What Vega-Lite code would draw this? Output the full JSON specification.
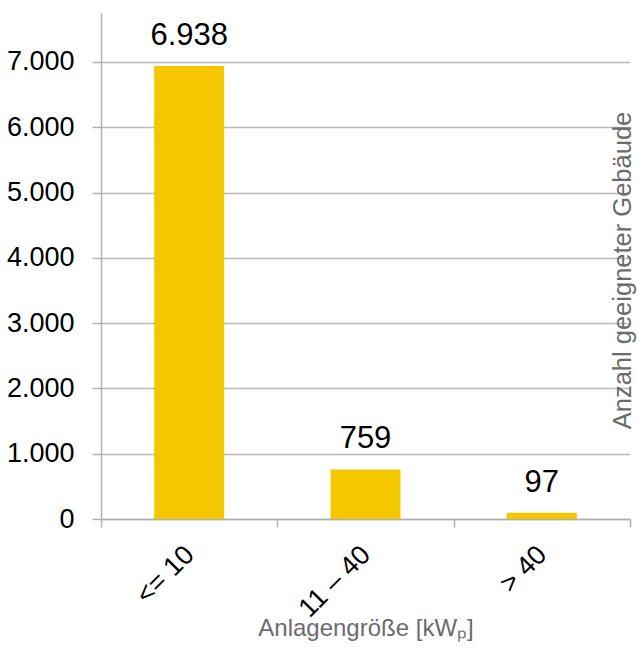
{
  "$schema": "https://vega.github.io/schema/vega-lite/v6.json",
  "autosize": "none",
  "width": 529,
  "height": 506,
  "padding": {"left": 101, "top": 13, "right": 8, "bottom": 129},
  "background": "white",
  "config": {
    "locale": {"number": {"decimal": ",", "thousands": ".", "grouping": [3], "currency": ["", " €"]}},
    "view": {"stroke": null},
    "font": "Liberation Sans"
  },
  "data": {
    "values": [
      {"groesse": "<= 10", "anzahl": 6938},
      {"groesse": "11 – 40", "anzahl": 759},
      {"groesse": "> 40", "anzahl": 97}
    ]
  },
  "encoding": {
    "x": {
      "field": "groesse",
      "type": "nominal",
      "sort": null,
      "scale": {"paddingInner": 0, "paddingOuter": 0},
      "axis": {
        "title": "Anlagengröße [kWₚ]",
        "titleFont": "Liberation Sans",
        "titleFontSize": 24,
        "titleFontWeight": "normal",
        "titleColor": "#6b6b6b",
        "titleBaseline": "middle",
        "titleY": 109,
        "labelAngle": -45,
        "labelFontSize": 27,
        "labelColor": "#000000",
        "labelPadding": 14,
        "labelOffset": -9,
        "tickBand": "extent",
        "tickSize": 8,
        "tickColor": "#b0b0b0",
        "domainColor": "#b0b0b0",
        "domainWidth": 1.5,
        "tickWidth": 1.5
      }
    }
  },
  "layer": [
    {
      "mark": {"type": "bar", "color": "#F4C700", "size": 70},
      "encoding": {
        "y": {
          "field": "anzahl",
          "type": "quantitative",
          "scale": {"domain": [0, 7750], "nice": false},
          "axis": {
            "values": [0, 1000, 2000, 3000, 4000, 5000, 6000, 7000],
            "format": ",d",
            "labelFontSize": 27,
            "labelColor": "#000000",
            "labelPadding": 18,
            "tickSize": 9,
            "tickColor": "#b0b0b0",
            "tickWidth": 1.5,
            "domainColor": "#b0b0b0",
            "domainWidth": 1.5,
            "gridColor": "#b8b8b8",
            "gridWidth": 1.5,
            "title": "Anzahl geeigneter Gebäude",
            "titleFont": "Liberation Sans",
            "titleFontSize": 25.5,
            "titleFontWeight": "normal",
            "titleColor": "#6b6b6b",
            "titleAngle": -90,
            "titleAlign": "center",
            "titleBaseline": "middle",
            "titleX": 521,
            "titleY": 257
          }
        }
      }
    },
    {
      "mark": {"type": "text", "fontSize": 31, "color": "#000000", "baseline": "bottom", "dy": -14, "font": "Liberation Sans"},
      "encoding": {
        "y": {"field": "anzahl", "type": "quantitative"},
        "text": {"field": "anzahl", "type": "quantitative", "format": ",d"}
      }
    }
  ]
}
